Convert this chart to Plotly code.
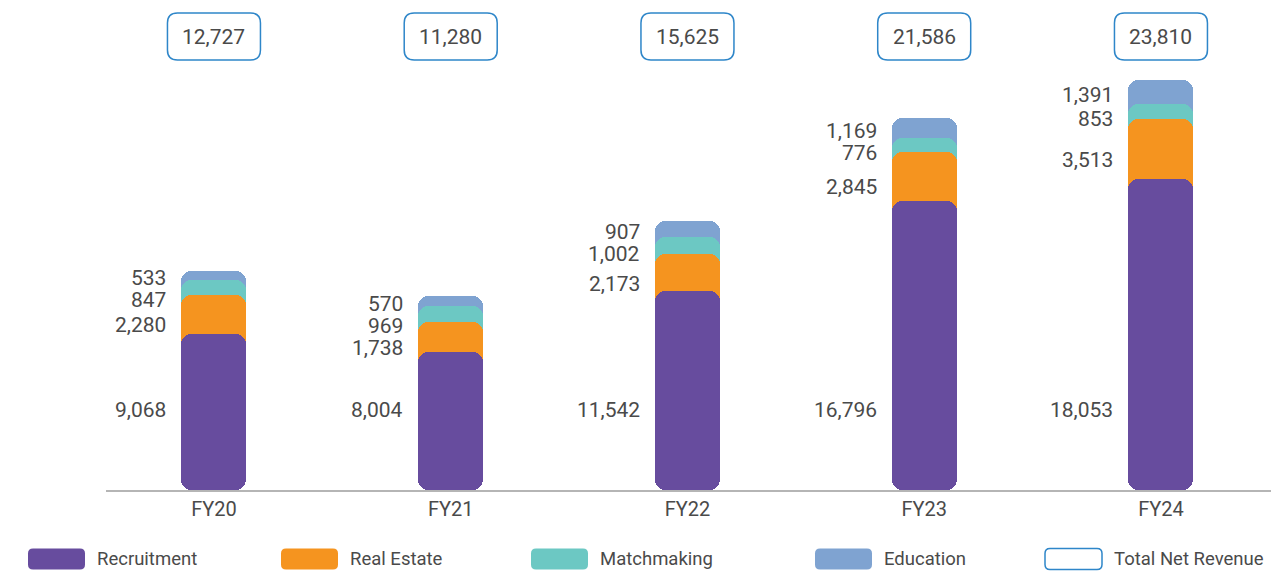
import plotly.graph_objects as go

# ---------------- data ----------------
categories = ["FY20", "FY21", "FY22", "FY23", "FY24"]
recruitment = [9068, 8004, 11542, 16796, 18053]
real_estate = [2280, 1738, 2173, 2845, 3513]
matchmaking = [847, 969, 1002, 776, 853]
education = [533, 570, 907, 1169, 1391]
total_net_revenue = [12727, 11280, 15625, 21586, 23810]
series_names = ["Recruitment", "Real Estate", "Matchmaking", "Education"]
total_name = "Total Net Revenue"

# ---------------- style / layout constants ----------------
W, H = 1271, 572
ML, MB = 106, 82
PLOT_W, PLOT_H = W - ML, H - MB
PX_PER_CAT = 236.75
X_START = -0.456
X_RANGE = [X_START, X_START + PLOT_W / PX_PER_CAT]
Y_MAX = 28450
U = Y_MAX / PLOT_H  # data units per pixel
BAR_W_PX = 65
RADIUS = 10
FONT = "Roboto, sans-serif"
TXT = "#4a4a4a"
COLORS = {
    "Recruitment": "#674c9e",
    "Real Estate": "#f5941f",
    "Matchmaking": "#6cc8c3",
    "Education": "#7fa3d1",
}
BOX_COLOR = "#2e86c9"

n = len(categories)
xs = list(range(n))
c1 = recruitment
c2 = [a + b for a, b in zip(c1, real_estate)]
c3 = [a + b for a, b in zip(c2, matchmaking)]
c4 = [a + b for a, b in zip(c3, education)]

fig = go.Figure()
# each segment is a rounded bar from the baseline to its cumulative top,
# drawn back to front on overlaid axes so every bar keeps rounded corners
layers = [("Education", [0] * n, c4), ("Matchmaking", [0] * n, c3),
          ("Real Estate", [0] * n, c2), ("Recruitment", [0] * n, c1),
          # same recruitment bar drawn downward from its top -> rounded bottom
          ("Recruitment", c1, [-v for v in c1])]
axis_names = []
for k, (name, base, vals) in enumerate(layers):
    xa = "x" if k == 0 else f"x{k+1}"
    axis_names.append(xa)
    fig.add_trace(go.Bar(
        x=xs, y=vals, base=base, name=name, width=BAR_W_PX / PX_PER_CAT,
        marker=dict(color=COLORS[name], line=dict(width=0), cornerradius=RADIUS),
        showlegend=False, hoverinfo="skip", xaxis=xa, yaxis="y",
    ))

annotations = []
shapes = []
label_dx = (BAR_W_PX / 2 + 13) / PX_PER_CAT

def fmt(v):
    return f"{v:,}"

for i in xs:
    mid_e = (c3[i] + c4[i]) / 2
    mid_m = (c2[i] + c3[i]) / 2
    mid_r = (c1[i] + c2[i]) / 2
    y_e = mid_e - 3 * U
    y_m = min(mid_m - 8 * U, y_e - 22 * U)
    y_r = min(mid_r - 11 * U, y_m - 22 * U)
    y_rec = 80 * U
    for val, yy in [(education[i], y_e), (matchmaking[i], y_m),
                    (real_estate[i], y_r), (recruitment[i], y_rec)]:
        annotations.append(dict(
            x=i - label_dx, y=yy, xref="x", yref="y", text=fmt(val),
            showarrow=False, xanchor="right", yanchor="middle",
            font=dict(family=FONT, size=21, color=TXT)))


def rrect(x0, x1, y0, y1, rx, ry):
    return (f"M {x0+rx},{y1} L {x1-rx},{y1} Q {x1},{y1} {x1},{y1-ry} "
            f"L {x1},{y0+ry} Q {x1},{y0} {x1-rx},{y0} L {x0+rx},{y0} "
            f"Q {x0},{y0} {x0},{y0+ry} L {x0},{y1-ry} Q {x0},{y1} {x0+rx},{y1} Z")

# total boxes (x in data, y in paper)
BOX_W, BOX_H, BOX_CY, BOX_R = 93, 47, 36.5, 10
for i in xs:
    bx0 = i - BOX_W / 2 / PX_PER_CAT
    bx1 = i + BOX_W / 2 / PX_PER_CAT
    by0 = (PLOT_H - (BOX_CY + BOX_H / 2)) / PLOT_H
    by1 = (PLOT_H - (BOX_CY - BOX_H / 2)) / PLOT_H
    shapes.append(dict(type="path", xref="x", yref="paper",
                       path=rrect(bx0, bx1, by0, by1, BOX_R / PX_PER_CAT, BOX_R / PLOT_H),
                       line=dict(color=BOX_COLOR, width=1.5), fillcolor="rgba(0,0,0,0)"))
    annotations.append(dict(
        x=i, y=(PLOT_H - BOX_CY) / PLOT_H, xref="x", yref="paper",
        text=fmt(total_net_revenue[i]), showarrow=False,
        xanchor="center", yanchor="middle",
        font=dict(family=FONT, size=21, color=TXT)))

# manual legend (paper coordinates from pixels)
def px_x(p):
    return (p - ML) / PLOT_W

def px_y(p):
    return (PLOT_H - p) / PLOT_H

LEG_LEFTS = [28, 281, 531, 815, 1045]
SW_W, SW_H, LEG_CY, SW_R = 57, 21, 559, 5
leg_items = series_names + [total_name]
for k, name in enumerate(leg_items):
    x0p, x1p = LEG_LEFTS[k], LEG_LEFTS[k] + SW_W
    path = rrect(px_x(x0p), px_x(x1p), px_y(LEG_CY + SW_H / 2), px_y(LEG_CY - SW_H / 2),
                 SW_R / PLOT_W, SW_R / PLOT_H)
    if name == total_name:
        shapes.append(dict(type="path", xref="paper", yref="paper", path=path,
                           line=dict(color=BOX_COLOR, width=1.5), fillcolor="white"))
    else:
        shapes.append(dict(type="path", xref="paper", yref="paper", path=path,
                           line=dict(width=0), fillcolor=COLORS[name]))
    annotations.append(dict(
        x=px_x(x1p + 10), y=px_y(LEG_CY), xref="paper", yref="paper",
        text=name, showarrow=False, xanchor="left", yanchor="middle",
        font=dict(family=FONT, size=18.5, color=TXT)))

layout_axes = {}
for xa in axis_names[1:]:
    layout_axes["xaxis" + xa[1:]] = dict(
        range=X_RANGE, overlaying="x", visible=False, showgrid=False,
        zeroline=False, fixedrange=True)

fig.update_layout(
    width=W, height=H,
    margin=dict(l=ML, r=0, t=0, b=MB, pad=0),
    paper_bgcolor="white", plot_bgcolor="white",
    barmode="overlay", bargap=0,
    showlegend=False,
    annotations=annotations, shapes=shapes,
    xaxis=dict(range=X_RANGE, tickmode="array", tickvals=xs, ticktext=categories,
               showgrid=False, zeroline=False, showline=True, linecolor="#b5b5b5",
               linewidth=1.5, ticks="", tickfont=dict(family=FONT, size=20, color=TXT),
               fixedrange=True, layer="above traces"),
    yaxis=dict(range=[0, Y_MAX], visible=False, showgrid=False, zeroline=False,
               fixedrange=True),
    font=dict(family=FONT, color=TXT),
    **layout_axes,
)

fig.write_html("out.html", config={"displayModeBar": False},
               post_script="document.body.style.margin='0';")
